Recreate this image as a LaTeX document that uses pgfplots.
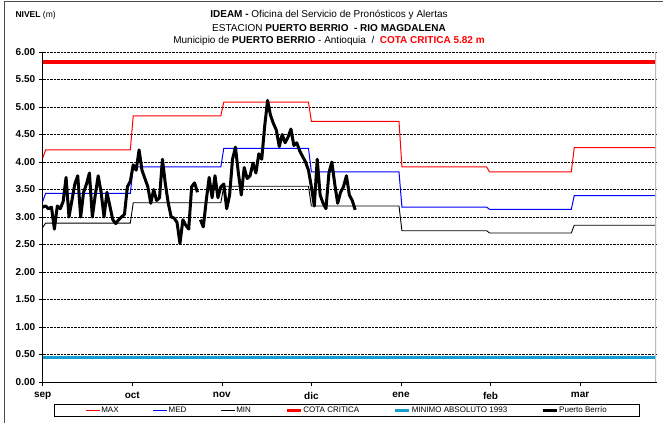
\documentclass[border=0pt]{standalone}
\usepackage{fontspec}
\setmainfont{Liberation Sans}
\usepackage{pgfplots}
\usepackage{pgfplotstable}
\pgfplotsset{compat=1.18}
\definecolor{minabs}{RGB}{20,158,212}
\pgfplotstableread{
x y
0 3.18
1 3.20
2 3.15
3 3.18
4 2.78
5 3.20
6 3.15
7 3.28
8 3.72
9 3.00
10 3.30
11 3.60
12 3.75
13 3.00
14 3.45
15 3.60
16 3.80
17 3.00
18 3.40
19 3.75
20 3.45
21 3.00
22 3.45
23 3.20
24 2.95
25 2.88
26 2.95
27 3.00
28 3.05
29 3.55
30 3.65
31 3.95
32 3.85
33 4.22
34 3.85
35 3.70
36 3.55
37 3.25
38 3.50
39 3.30
40 3.35
41 4.05
42 3.60
43 3.25
44 3.00
45 2.98
46 2.90
47 2.52
48 2.95
49 2.85
50 2.78
51 3.55
52 3.62
53 3.45
53.5 nan
54 2.95
55 2.82
56 3.30
57 3.72
58 3.35
59 3.75
60 3.35
61 3.55
62 3.60
63 3.15
64 3.40
65 4.05
66 4.27
67 3.80
68 3.40
69 3.90
70 3.70
71 3.75
72 3.98
73 3.80
74 4.15
75 4.05
76 4.65
77 5.12
78 4.85
79 4.70
80 4.58
81 4.28
82 4.50
83 4.35
84 4.45
85 4.60
86 4.30
87 4.35
88 4.20
89 4.10
90 4.00
91 3.85
92 3.55
93 3.20
94 4.05
95 3.40
96 3.25
97 3.15
98 3.80
99 4.00
100 3.60
101 3.25
102 3.45
103 3.55
104 3.75
105 3.40
106 3.30
107 3.13
}\berrio
\begin{document}
\begin{tikzpicture}
\useasboundingbox (-42.7pt,-41pt) rectangle (620.3pt,382pt);
\begin{axis}[
  at={(0pt,0pt)}, anchor=south west,
  scale only axis, width=613.3pt, height=330pt,
  xmin=0, xmax=210, ymin=0, ymax=6,
  axis x line*=bottom, axis y line*=left,
  axis line style={black, line width=0.8pt},
  xtick={0,30.67,61.33,92,122.67,153.33,184},
  xticklabels={sep,oct,nov,dic,ene,feb,mar},
  ytick={0,0.5,...,6},
  ymajorgrids,
  grid style={densely dotted, black, line width=0.6pt},
  tick align=outside, major tick length=4pt,
  tick style={black, line width=0.6pt},
  yticklabel style={font=\fontsize{10}{12}\selectfont\bfseries,
    /pgf/number format/.cd, fixed, fixed zerofill, precision=2, assume math mode=true},
  xticklabel style={font=\fontsize{10}{12}\selectfont\bfseries, yshift=-2.5pt},
  legend columns=6,
  legend style={at={(0.4954,-0.0864)}, anchor=center, draw=black, line width=0.6pt,
    font=\fontsize{8}{9}\selectfont, inner xsep=31pt, inner ysep=1.5pt,
    nodes={inner xsep=1pt, inner ysep=1pt},
    /tikz/every even column/.append style={column sep=33pt}},
  legend image code/.code={\draw[#1] (0pt,0pt) -- (14pt,0pt);},
]
\addplot[red, line width=1pt, mark=none] coordinates {(0,4.07)(1,4.22)(30,4.22)(31,4.84)(61,4.84)(62,5.09)(91,5.09)(92,4.74)(122,4.74)(123,3.91)(152,3.91)(153,3.82)(181,3.82)(182,4.26)(210,4.26)};
\addlegendentry{MAX}
\addplot[blue, line width=1pt, mark=none] coordinates {(0,3.28)(1,3.43)(30,3.43)(31,3.91)(61,3.91)(62,4.25)(91,4.25)(92,3.82)(122,3.82)(123,3.18)(152,3.18)(153,3.14)(181,3.14)(182,3.39)(210,3.39)};
\addlegendentry{MED}
\addplot[black, line width=0.9pt, mark=none] coordinates {(0,2.81)(1,2.89)(30,2.89)(31,3.26)(61,3.26)(62,3.56)(91,3.56)(92,3.20)(122,3.20)(123,2.75)(152,2.75)(153,2.71)(181,2.71)(182,2.85)(210,2.85)};
\addlegendentry{MIN}
\addplot[red, line width=3.5pt, mark=none] coordinates {(0,5.82)(210,5.82)};
\addlegendentry{COTA CRITICA}
\addplot[minabs, line width=3.5pt, mark=none] coordinates {(0,0.45)(210,0.45)};
\addlegendentry{MINIMO ABSOLUTO 1993}
\addplot[black, line width=3pt, mark=none, line join=round, unbounded coords=jump] table[x=x,y=y] {\berrio};
\addlegendentry{Puerto Berrío}
\draw[gray!55, line width=1.2pt] (rel axis cs:1,0) -- (rel axis cs:1,1);
\end{axis}
\draw[gray!60!black, line width=1pt] (-37.7pt,-41pt) -- (-37.7pt,380pt) -- (620.3pt,380pt);
\node[anchor=west, font=\fontsize{8.5}{10}\selectfont] at (-30.7pt,367pt) {\textbf{NIVEL} (m)};
\node[font=\fontsize{10}{12}\selectfont] at (286.3pt,367pt) {\textbf{IDEAM -} Oficina del Servicio de Pronósticos y Alertas};
\node[font=\fontsize{10}{12}\selectfont] at (286.3pt,354pt) {ESTACION \textbf{PUERTO BERRIO \ - RIO MAGDALENA}};
\node[font=\fontsize{10}{12}\selectfont] at (286.3pt,341pt) {Municipio de \textbf{PUERTO BERRIO} - Antioquia \ / \ \textcolor{red}{\textbf{COTA CRITICA 5.82 m}}};
\end{tikzpicture}
\end{document}
